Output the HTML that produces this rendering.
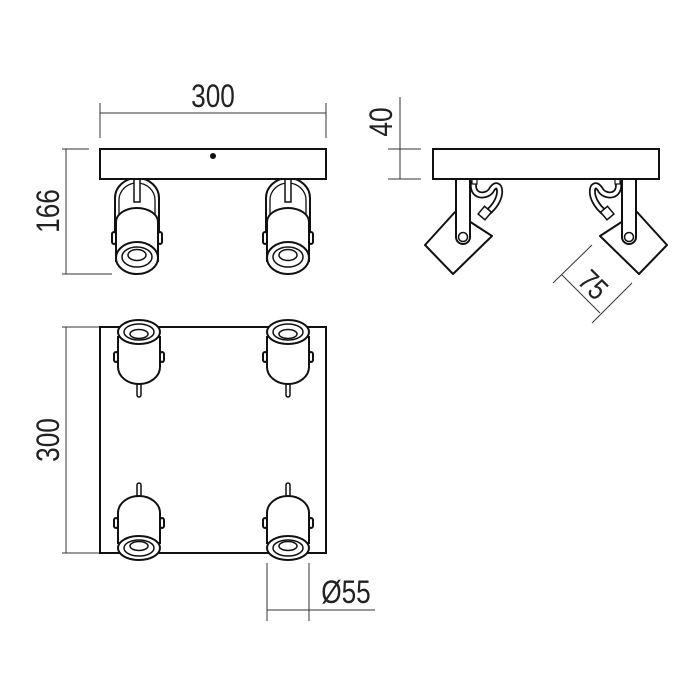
<!DOCTYPE html>
<html><head><meta charset="utf-8"><style>
html,body{margin:0;padding:0;background:#fff}
svg{display:block}
text{font-family:"Liberation Sans",sans-serif;fill:#222}
</style></head><body>
<svg width="700" height="700" viewBox="0 0 700 700" xmlns="http://www.w3.org/2000/svg">
<defs>
<g id="fspot" fill="#fff" stroke="#111" stroke-width="2">
  <path d="M-22,60 L-22,16 A22,20 0 0 1 22,16 L22,60" fill="none"/>
  <path d="M-18,60 L-18,18 A18,17 0 0 1 18,18 L18,60" fill="none" stroke-width="1.3"/>
  <rect x="-3" y="-4" width="6" height="24" stroke-width="1.5"/>
  <path d="M-21,80 L-21,40 A21,14 0 0 1 21,40 L21,80" fill="#fff"/>
  <ellipse cx="0" cy="76" rx="21" ry="16"/>
  <ellipse cx="0" cy="75" rx="15" ry="10" stroke-width="1.5"/>
  <ellipse cx="0" cy="73" rx="9" ry="5.5" stroke-width="1.5"/>
  <rect x="-25" y="50" width="4" height="12" rx="2"/>
  <rect x="21" y="50" width="4" height="12" rx="2"/>
</g>
<g id="pspot" fill="#fff" stroke="#111" stroke-width="2">
  <rect x="-2" y="45" width="4" height="20" rx="2" stroke-width="1.5"/>
  <path d="M-21,5 L-21,35 A21,17 0 0 0 21,35 L21,5 Z"/>
  <rect x="-25" y="20" width="4" height="10" rx="2"/>
  <rect x="21" y="20" width="4" height="10" rx="2"/>
  <ellipse cx="0" cy="0" rx="21" ry="12"/>
  <ellipse cx="0" cy="0" rx="15" ry="8" stroke-width="1.5"/>
  <ellipse cx="0" cy="2" rx="9" ry="4.5" stroke-width="1.5"/>
</g>
<g id="sspot" fill="#fff" stroke="#111" stroke-width="2">
  <path d="M474,181 C470,198 488,198 492,189 C500,178 506,198 487,213" fill="none" stroke-width="7"/>
  <path d="M474,181 C470,198 488,198 492,189 C500,178 506,198 487,213" fill="none" stroke="#fff" stroke-width="3.5"/>
  <rect x="472" y="179" width="5" height="5" stroke-width="1.2"/>
  <polygon points="425,245 455,212 492,236 453,274" stroke-linejoin="round"/>
  <rect x="481" y="208" width="9" height="10" transform="rotate(40 485 212)" stroke-width="1.5"/>
  <path d="M456,179 L456,237 A7,7 0 0 0 470,237 L470,179"/>
  <circle cx="463" cy="237" r="4.5" stroke-width="1.5"/>
</g>
</defs>

<line x1="100" y1="103" x2="100" y2="138" stroke="#333" stroke-width="1"/>
<line x1="326" y1="103" x2="326" y2="138" stroke="#333" stroke-width="1"/>
<line x1="100" y1="113" x2="326" y2="113" stroke="#333" stroke-width="1"/>
<text x="213" y="107" font-size="32" text-anchor="middle" transform="translate(213 0) scale(0.82 1) translate(-213 0)">300</text>

<line x1="66" y1="149" x2="66" y2="274" stroke="#333" stroke-width="1"/>
<line x1="62" y1="149" x2="89" y2="149" stroke="#333" stroke-width="1"/>
<line x1="62" y1="274" x2="112" y2="274" stroke="#333" stroke-width="1"/>
<text font-size="32" text-anchor="middle" transform="translate(59 211) rotate(-90) scale(0.82 1)">166</text>

<use href="#fspot" x="137" y="182"/>
<use href="#fspot" x="288" y="182"/>
<rect x="100" y="149" width="226" height="30" fill="#fff" stroke="#111" stroke-width="2"/>
<circle cx="213" cy="156" r="3" fill="#111"/>

<line x1="400" y1="97" x2="400" y2="179" stroke="#333" stroke-width="1"/>
<line x1="388" y1="149" x2="421" y2="149" stroke="#333" stroke-width="1"/>
<line x1="388" y1="179" x2="421" y2="179" stroke="#333" stroke-width="1"/>
<text font-size="32" text-anchor="middle" transform="translate(392 122) rotate(-90) scale(0.82 1)">40</text>

<use href="#sspot"/>
<g transform="translate(1092 0) scale(-1 1)"><use href="#sspot"/></g>
<rect x="433" y="149" width="226" height="30" fill="#fff" stroke="#111" stroke-width="2"/>

<line x1="553" y1="283" x2="592" y2="245" stroke="#333" stroke-width="1"/>
<line x1="592" y1="323" x2="632" y2="283" stroke="#333" stroke-width="1"/>
<line x1="562" y1="275" x2="600" y2="313" stroke="#333" stroke-width="1"/>
<text font-size="30" text-anchor="middle" transform="translate(586 292) rotate(45) scale(0.82 1)">75</text>

<line x1="66" y1="327" x2="66" y2="553" stroke="#333" stroke-width="1"/>
<line x1="62" y1="327" x2="100" y2="327" stroke="#333" stroke-width="1"/>
<line x1="62" y1="553" x2="100" y2="553" stroke="#333" stroke-width="1"/>
<text font-size="32" text-anchor="middle" transform="translate(59 440) rotate(-90) scale(0.82 1)">300</text>

<rect x="100" y="327" width="226" height="226" fill="#fff" stroke="#111" stroke-width="2"/>
<use href="#pspot" x="139" y="332"/>
<use href="#pspot" x="288" y="332"/>
<g transform="translate(0 880) scale(1 -1)">
<use href="#pspot" x="139" y="332"/>
<use href="#pspot" x="288" y="332"/>
</g>

<line x1="267" y1="563" x2="267" y2="621" stroke="#333" stroke-width="1"/>
<line x1="309" y1="563" x2="309" y2="621" stroke="#333" stroke-width="1"/>
<line x1="267" y1="610" x2="375" y2="610" stroke="#333" stroke-width="1"/>
<text x="346" y="603" font-size="32" text-anchor="middle" transform="translate(346 0) scale(0.82 1) translate(-346 0)">Ø55</text>
</svg>
</body></html>
